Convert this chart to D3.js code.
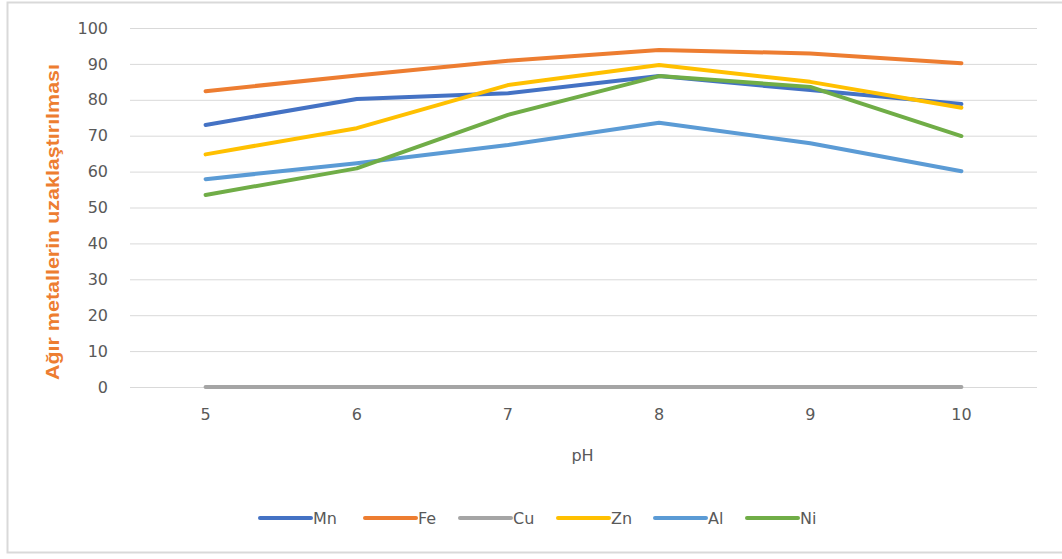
<!DOCTYPE html>
<html>
<head>
<meta charset="utf-8">
<script src="https://cdn.jsdelivr.net/npm/d3@7"></script>
<style>
  html, body { margin: 0; padding: 0; background: #fff; }
  svg { display: block; }
</style>
</head>
<body>
<svg id="chart" width="1062" height="559"></svg>
<script>
// pH steps along the category axis
const phValues = ["5", "6", "7", "8", "9", "10"];

// Removal of heavy metals (%) at each pH
const seriesNames = ["Mn", "Fe", "Cu", "Zn", "Al", "Ni"];
const mnValues = [73.0, 80.2, 81.8, 86.6, 82.7, 78.8];
const feValues = [82.4, 86.8, 90.9, 93.9, 92.9, 90.2];
const cuValues = [0, 0, 0, 0, 0, 0];
const znValues = [64.8, 72.1, 84.1, 89.7, 85.0, 77.8];
const alValues = [57.9, 62.3, 67.4, 73.6, 67.9, 60.1];
const niValues = [53.5, 60.9, 75.8, 86.6, 83.6, 69.9];
const seriesColors = ["#4472C4", "#ED7D31", "#A5A5A5", "#FFC000", "#5B9BD5", "#70AD47"];

// Value axis ticks
const yTicks = [0, 10, 20, 30, 40, 50, 60, 70, 80, 90, 100];

const series = [mnValues, feValues, cuValues, znValues, alValues, niValues].map((vals, i) => ({
  name: seriesNames[i],
  color: seriesColors[i],
  values: vals.map((v, j) => ({ x: phValues[j], y: v }))
}));

const labelFont = "DejaVu Sans, sans-serif";
const svg = d3.select("#chart");

// Outer chart frame
svg.append("rect")
  .attr("x", 7.5).attr("y", 2.5)
  .attr("width", 1062).attr("height", 550)
  .attr("fill", "#fff")
  .attr("stroke", "#d9d9d9")
  .attr("stroke-width", 2);

const plot = { left: 130, right: 1037, top: 28, bottom: 387 };

const x = d3.scaleBand()
  .domain(phValues)
  .range([plot.left, plot.right]);

const y = d3.scaleLinear()
  .domain([0, 100])
  .range([plot.bottom, plot.top]);

// Horizontal gridlines
svg.append("g")
  .selectAll("line")
  .data(yTicks)
  .join("line")
  .attr("x1", plot.left).attr("x2", plot.right)
  .attr("y1", d => y(d) + 0.5).attr("y2", d => y(d) + 0.5)
  .attr("stroke", "#d9d9d9")
  .attr("stroke-width", 1);

// Y axis labels
const yAxis = d3.axisLeft(y).tickValues(yTicks).tickSize(0).tickPadding(0);
svg.append("g")
  .attr("transform", `translate(${108},0)`)
  .call(yAxis)
  .call(g => g.select(".domain").remove())
  .call(g => g.selectAll("text")
    .attr("fill", "#595959")
    .style("font-size", "16px")
    .style("font-family", labelFont));

// X axis labels
const xAxis = d3.axisBottom(x).tickSize(0).tickPadding(0);
svg.append("g")
  .attr("transform", `translate(0,${409})`)
  .call(xAxis)
  .call(g => g.select(".domain").remove())
  .call(g => g.selectAll("text")
    .attr("fill", "#595959")
    .style("font-size", "16px")
    .style("font-family", labelFont));

// Axis titles
svg.append("text")
  .attr("x", (plot.left + plot.right) / 2 - 1)
  .attr("y", 461)
  .attr("text-anchor", "middle")
  .attr("fill", "#595959")
  .style("font-size", "16px")
  .style("font-family", labelFont)
  .text("pH");

svg.append("text")
  .attr("transform", `translate(${59},${222}) rotate(-90)`)
  .attr("text-anchor", "middle")
  .attr("fill", "#ED7D31")
  .attr("textLength", 316)
  .attr("lengthAdjust", "spacingAndGlyphs")
  .style("font-weight", "bold")
  .style("font-size", "19px")
  .style("font-family", "Liberation Sans, Arial, sans-serif")
  .text("Ağır metallerin uzaklaştırılması");

// Series lines
const line = d3.line()
  .x(d => x(d.x) + x.bandwidth() / 2)
  .y(d => y(d.y));

svg.append("g")
  .selectAll("path")
  .data(series)
  .join("path")
  .attr("d", d => line(d.values))
  .attr("fill", "none")
  .attr("stroke", d => d.color)
  .attr("stroke-width", 4)
  .attr("stroke-linecap", "round")
  .attr("stroke-linejoin", "round");

// Legend
const legendX = [260, 365, 460, 558, 655, 747];
const legend = svg.append("g")
  .selectAll("g")
  .data(series)
  .join("g")
  .attr("transform", (d, i) => `translate(${legendX[i]},${518})`);

legend.append("line")
  .attr("x1", 0).attr("x2", 51)
  .attr("y1", 0).attr("y2", 0)
  .attr("stroke", d => d.color)
  .attr("stroke-width", 4)
  .attr("stroke-linecap", "round");

legend.append("text")
  .attr("x", 53)
  .attr("y", 6)
  .attr("fill", "#595959")
  .style("font-size", "16px")
  .style("font-family", labelFont)
  .text(d => d.name);
</script>
</body>
</html>
